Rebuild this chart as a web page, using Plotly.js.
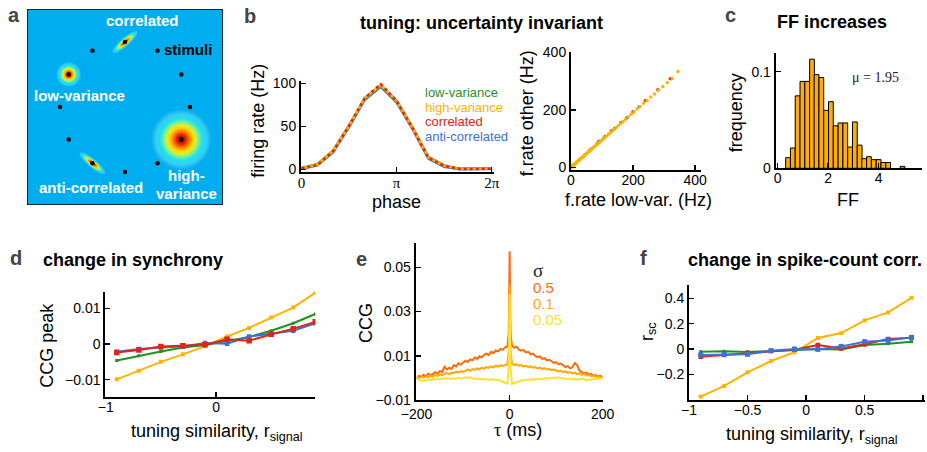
<!DOCTYPE html>
<html><head><meta charset="utf-8">
<script src="https://cdn.plot.ly/plotly-3.0.1.min.js"></script>
<style>body{margin:0;background:#fff}</style></head><body>
<div id="chart" style="width:927px;height:452px"></div>
<script>
// ---------------- DATA ----------------
// panel a: stimulus directions (deg) and blobs
const stimAngles = [90, 60, 30, 0, -30, -60, -90, -120, -150, 180, 150, 120];
const blobNames = ['correlated', 'low-variance', 'anti-correlated', 'high-variance'];
const blobAngles = [90, 150, 240, 330];
const blobSigMajor = [5.5, 4, 5.5, 9.6];   // px
const blobSigMinor = [1.4, 4, 1.4, 9.6];   // px
const blobRot = [41, 0, -40, 0];

// panel b (left): tuning curves
const phase = [0, 0.5236, 1.0472, 1.5708, 2.0944, 2.6180, 3.1416, 3.6652, 4.1888, 4.7124, 5.2360, 5.7596, 6.2832];
const rateLowVar  = [1.5, 6.0, 22.0, 51.0, 83.0, 97.5, 80.0, 49.0, 14.5, 4.5, 0.8, 0.8, 1.2];
const rateHighVar = [1.0, 5.5, 21.5, 50.5, 82.5, 98.0, 79.5, 48.5, 14.0, 4.2, 0.5, 0.5, 0.8];
const rateCorr    = [1.0, 5.0, 21.0, 50.5, 83.0, 99.0, 79.5, 48.0, 13.5, 4.0, 0.3, 0.3, 0.6];
const rateAnti    = [0.5, 4.5, 20.0, 49.0, 81.0, 96.0, 78.0, 47.0, 12.5, 3.0, 0.0, 0.0, 0.3];

// panel b (right): rates, low-variance (x) vs other condition (y)
const frLowH = [0.5,1,1.5,2,3,3.5,4,5,6,7,8,9,10,11,12,13,14,16,17,19,20,22,24,26,28,30,32,34,36,39,41,44,47,50,53,56,60,63,67,71,75,79,84,88,93,98,103,108,114,120,126,132,139,146,153,160,168,176,185,194,203,213,223,234,245,257,269,282,296,310,326,345];
const frHigh = [0.5,1,1.4,1.9,2.9,3.3,3.8,4.8,5.7,6.6,7.7,8.5,9.5,10.5,11.3,12.4,13.2,15.3,16.1,18.1,18.9,21,22.7,24.8,26.5,28.6,30.3,32.4,34.1,37.2,38.8,41.9,44.6,47.6,50.2,53.3,56.9,60,63.5,67.6,71.1,75.2,79.7,83.8,88.2,93.2,97.7,102.8,108.1,114.2,119.5,125.6,131.8,138.9,145.2,152.1,159.4,167.3,175.5,184.6,192.6,202.6,211.6,222.5,232.5,244.4,255.3,268.2,280.9,294.8,309.3,333];
const frLowC = [5, 12, 25, 40, 60, 85, 110, 130, 160, 200, 240, 280, 320];
const frCorr = [5, 11.6, 24.2, 38.8, 58.4, 82.5, 107, 127, 155, 193, 232, 270, 308];
const frLowA = [3, 9, 18, 30, 45, 65, 90, 105, 140, 180, 220];
const frAnti = [3, 8.8, 17.6, 29.4, 43.8, 63.6, 91, 101, 135, 172, 211];

// panel c: Fano factor histogram
const ffBins = [0.41,0.60,0.79,0.98,1.17,1.36,1.54,1.73,1.92,2.11,2.30,2.49,2.68,2.87,3.06,3.25,3.43,3.62,3.81,4.00,4.19,4.38,4.95];
const ffFreq = [0.011,0.021,0.075,0.090,0.090,0.113,0.097,0.094,0.060,0.069,0.044,0.047,0.047,0.022,0.048,0.024,0.010,0.012,0.009,0.009,0.006,0.006,0.002];

// panel d & f: tuning similarity
const rSignal = [-0.9, -0.7, -0.5, -0.3, -0.1, 0.1, 0.3, 0.5, 0.7, 0.9];
const ccgHigh = [-0.0099, -0.0075, -0.0050, -0.0029, -0.0006, 0.0021, 0.0045, 0.0074, 0.0102, 0.0144];
const ccgLow  = [-0.0046, -0.0033, -0.0021, -0.0010, -0.0003, 0.0008, 0.0020, 0.0037, 0.0058, 0.0084];
const ccgCorr = [-0.0024, -0.0017, -0.0007, -0.0005, -0.0002, 0.0013, 0.0009, 0.0027, 0.0043, 0.0062];
const ccgAnti = [-0.0022, -0.0014, -0.0010, -0.0007, 0.0003, 0.0001, 0.0021, 0.0028, 0.0037, 0.0058];
const rscHigh = [-0.376, -0.292, -0.184, -0.095, -0.026, 0.087, 0.126, 0.226, 0.289, 0.405];
const rscLow  = [-0.021, -0.018, -0.024, -0.016, -0.003, 0.000, -0.003, 0.032, 0.042, 0.058];
const rscCorr = [-0.061, -0.047, -0.029, -0.016, -0.005, 0.032, 0.005, 0.037, 0.079, 0.089];
const rscAnti = [-0.047, -0.042, -0.042, -0.013, 0.000, -0.003, 0.021, 0.058, 0.068, 0.092];

// panel e: cross-correlograms
const tau = [-200,-195,-190,-185,-180,-175,-170,-165,-160,-155,-150,-145,-140,-135,-130,-125,-120,-115,-110,-105,-100,-95,-90,-85,-80,-75,-70,-65,-60,-55,-50,-45,-40,-35,-30,-25,-20,-15,-10,-5,-2,-1,0,1,2,5,10,15,20,25,30,35,40,45,50,55,60,65,70,75,80,85,90,95,100,105,110,115,120,125,130,135,140,145,150,155,160,165,170,175,180,185,190,195,200];
const ccg05 = [-0.0003,0.0009,0.0004,0.0014,0.0007,0.0019,0.0011,0.0017,0.0026,0.0020,0.0031,0.0027,0.0050,0.0038,0.0046,0.0041,0.0058,0.0052,0.0066,0.0060,0.0071,0.0078,0.0072,0.0084,0.0080,0.0092,0.0086,0.0098,0.0093,0.0104,0.0110,0.0103,0.0118,0.0112,0.0124,0.0120,0.0131,0.0127,0.0138,0.0141,
  0.0200,0.0330,0.0573,0.0320,0.0195,
  0.0146,0.0137,0.0141,0.0128,0.0123,0.0126,0.0115,0.0118,0.0107,0.0110,0.0099,0.0094,0.0097,0.0086,0.0089,0.0079,0.0082,0.0073,0.0068,0.0071,0.0062,0.0065,0.0055,0.0049,0.0053,0.0043,0.0048,0.0067,0.0058,0.0034,0.0026,0.0021,0.0024,0.0015,0.0018,0.0010,0.0013,0.0006,0.0009,0.0003];
const ccg01 = [0.0001,-0.0002,0.0005,0.0002,0.0008,0.0004,0.0010,0.0007,0.0013,0.0009,0.0016,0.0012,0.0019,0.0022,0.0017,0.0024,0.0021,0.0028,0.0025,0.0031,0.0027,0.0034,0.0038,0.0032,0.0040,0.0036,0.0043,0.0039,0.0046,0.0042,0.0049,0.0045,0.0052,0.0047,0.0055,0.0051,0.0057,0.0054,0.0059,0.0062,
  0.0120,0.0240,0.0423,0.0235,0.0115,
  0.0064,0.0058,0.0061,0.0055,0.0058,0.0052,0.0055,0.0049,0.0052,0.0046,0.0049,0.0043,0.0047,0.0041,0.0044,0.0038,0.0041,0.0035,0.0038,0.0032,0.0029,0.0033,0.0026,0.0030,0.0023,0.0027,0.0020,0.0024,0.0017,0.0021,0.0014,0.0018,0.0011,0.0015,0.0008,0.0012,0.0005,0.0009,0.0002,0.0004];
const ccg005 = [0.0000,-0.0008,-0.0015,-0.0010,-0.0013,-0.0006,-0.0011,-0.0004,-0.0009,-0.0003,-0.0007,-0.0002,-0.0005,-0.0001,-0.0004,-0.0006,-0.0002,-0.0005,0.0001,-0.0003,-0.0001,0.0003,0.0000,0.0004,-0.0002,-0.0005,-0.0003,-0.0006,-0.0004,-0.0008,-0.0005,-0.0009,-0.0007,-0.0006,-0.0010,-0.0008,-0.0013,-0.0016,-0.0022,-0.0026,
  0.0050,0.0200,0.0380,0.0190,0.0045,
  -0.0028,-0.0024,-0.0018,-0.0014,-0.0011,-0.0012,-0.0008,-0.0010,-0.0006,-0.0009,-0.0005,-0.0007,-0.0003,-0.0006,-0.0002,-0.0004,0.0000,-0.0003,0.0002,-0.0001,0.0003,0.0000,-0.0004,-0.0002,-0.0006,-0.0003,-0.0007,-0.0004,-0.0008,-0.0005,-0.0003,-0.0007,-0.0012,-0.0006,-0.0009,-0.0004,-0.0007,-0.0002,-0.0005,0.0000];

// ---------------- LAYOUT HELPERS ----------------
const W = 927, H = 452;
const FONT = 'Liberation Sans, Arial, Helvetica, sans-serif';
const SERIF = 'Liberation Serif, Times New Roman, serif';
const C = {green:'#1f921f', orange:'#ffb300', red:'#e2231a', blue:'#3b72d6'};
function dom(l, r, t, b) { return {x:[l/W, r/W], y:[1-b/H, 1-t/H]}; }
function ax(domain, range, anchor, extra) {
  return Object.assign({domain, range, anchor, autorange:false, showgrid:false, zeroline:false,
    showline:true, linecolor:'#000', linewidth:2, ticks:'inside', ticklen:5, tickwidth:1.5, tickcolor:'#000',
    tickfont:{family:FONT, size:14, color:'#000'}, fixedrange:true}, extra || {});
}
function xax(domain, range, anchor, extra) {
  return ax(domain, range, anchor, Object.assign({ticklabelstandoff:-4}, extra || {}));
}
function A(text, px, py, o) {
  return Object.assign({text, x:px/W, y:1-py/H, xref:'paper', yref:'paper', showarrow:false,
    xanchor:'center', yanchor:'middle', font:{family:FONT, size:18, color:'#000'}}, o || {});
}

const D = {
  b1: dom(301, 494, 81, 172.3), b2: dom(571, 700.7, 52.3, 170), c: dom(775.7, 921.7, 52.7, 168.3),
  d: dom(105.3, 315.3, 291.7, 397.3), e: dom(415.7, 602.7, 243.3, 400), f: dom(689, 925, 285, 400),
  a: dom(27, 223, 9, 205)
};

// ---------------- PANEL a shapes ----------------
const PX = 65; // px per unit in panel a
const aR = 1.508;
const shapes = [{type:'rect', xref:'x7', yref:'y7', x0:-aR, x1:aR, y0:-aR, y1:aR, fillcolor:'#00aeef',
  line:{color:'#000', width:1.5}, layer:'below'}];
// colour stops of the (jet-like) blob colour scale, by radius in units of sigma
const fStops = [3.1, 2.7, 2.3, 1.95, 1.6, 1.3, 1.0, 0.6, 0.2];
const cStops = [[20,180,240],[60,205,245],[20,226,238],[110,236,170],[215,240,50],[255,214,0],[255,140,0],[238,40,0],[150,0,0]];
function colAt(f) {
  for (let i = 0; i < fStops.length - 1; i++) {
    if (f <= fStops[i] && f >= fStops[i+1]) {
      const t = (fStops[i] - f) / (fStops[i] - fStops[i+1]);
      const c = cStops[i].map((v, j) => Math.round(v + t * (cStops[i+1][j] - v)));
      return 'rgb(' + c.join(',') + ')';
    }
  }
  return 'rgb(' + cStops[cStops.length-1].join(',') + ')';
}
function ellPath(cx, cy, a, b, rot) {
  const t = rot * Math.PI / 180; let s = '';
  for (let i = 0; i < 60; i++) {
    const u = 2 * Math.PI * i / 60, ex = a * Math.cos(u), ey = b * Math.sin(u);
    const x = cx + ex * Math.cos(t) - ey * Math.sin(t), y = cy + ex * Math.sin(t) + ey * Math.cos(t);
    s += (i ? 'L' : 'M') + x.toFixed(4) + ',' + y.toFixed(4);
  }
  return s + 'Z';
}
const ringF = [];
for (let f = 3.1; f > 0.2; f -= 0.15) ringF.push(f);
blobAngles.forEach((ang, k) => {
  const cx = Math.cos(ang * Math.PI / 180), cy = Math.sin(ang * Math.PI / 180);
  ringF.forEach((f) => {
    shapes.push({type:'path', xref:'x7', yref:'y7', layer:'below', line:{width:0}, fillcolor:colAt(f),
      path: ellPath(cx, cy, f * blobSigMajor[k] / PX, f * blobSigMinor[k] / PX, blobRot[k])});
  });
});

// ---------------- TRACES ----------------
const traces = [];
// a: stimuli dots
traces.push({type:'scatter', mode:'markers', xaxis:'x7', yaxis:'y7',
  x: stimAngles.map(a => Math.cos(a * Math.PI / 180)), y: stimAngles.map(a => Math.sin(a * Math.PI / 180)),
  marker:{size:4.5, color:'#000'}, hoverinfo:'skip'});
// b1
[[rateAnti, C.blue, 'solid'], [rateLowVar, C.green, 'solid'], [rateHighVar, C.orange, 'solid'], [rateCorr, C.red, '3px,3px']].forEach(s => {
  traces.push({type:'scatter', mode:'lines', xaxis:'x', yaxis:'y', x:phase, y:s[0], line:{color:s[1], width:2.5, dash:s[2]}});
});
// b2
[[frLowA, frAnti, C.blue], [frLowC, frCorr, C.red], [frLowH, frHigh, C.orange]].forEach(s => {
  traces.push({type:'scatter', mode:'markers', xaxis:'x2', yaxis:'y2', x:s[0], y:s[1], marker:{size:3.5, color:s[2]}});
});
// c
traces.push({type:'bar', xaxis:'x3', yaxis:'y3', x:ffBins, y:ffFreq, width:0.189,
  marker:{color:'#ffad00', line:{color:'#000', width:1}}});
// d
[[ccgHigh, C.orange, 4], [ccgLow, C.green, 3], [ccgAnti, C.blue, 4.5], [ccgCorr, C.red, 5.5]].forEach(s => {
  traces.push({type:'scatter', mode:'lines+markers', xaxis:'x4', yaxis:'y4', x:rSignal, y:s[0],
    line:{color:s[1], width:2}, marker:{symbol:'square', size:s[2], color:s[1]}});
});
// e
[[ccg05, '#ff6a0a'], [ccg01, '#ffa800'], [ccg005, '#ffe033']].forEach(s => {
  traces.push({type:'scatter', mode:'lines', xaxis:'x5', yaxis:'y5', x:tau, y:s[0], line:{color:s[1], width:2}});
});
// f
[[rscHigh, C.orange, 4], [rscLow, C.green, 3], [rscCorr, C.red, 4.5], [rscAnti, C.blue, 5]].forEach(s => {
  traces.push({type:'scatter', mode:'lines+markers', xaxis:'x6', yaxis:'y6', x:rSignal, y:s[0],
    line:{color:s[1], width:2}, marker:{symbol:'square', size:s[2], color:s[1]}});
});

// ---------------- ANNOTATIONS ----------------
const wb = (t) => '<b>' + t + '</b>';
const ann = [
  A(wb('a'), 14, 15, {font:{family:FONT, size:20}}),
  A(wb('correlated'), 142, 20.7, {font:{family:FONT, size:15, color:'#fff'}}),
  A(wb('stimuli'), 188, 49, {font:{family:FONT, size:15, color:'#000'}}),
  A(wb('low-variance'), 79, 95.7, {font:{family:FONT, size:15, color:'#fff'}}),
  A(wb('anti-correlated'), 90.7, 187.7, {font:{family:FONT, size:15, color:'#fff'}}),
  A(wb('high-'), 186, 176, {font:{family:FONT, size:15, color:'#fff'}}),
  A(wb('variance'), 186, 193, {font:{family:FONT, size:15, color:'#fff'}}),

  A(wb('b'), 250, 16, {font:{family:FONT, size:20}}),
  A(wb('tuning: uncertainty invariant'), 481, 23),
  A('low-variance', 422.7, 92.7, {xanchor:'left', font:{family:FONT, size:13, color:C.green}}),
  A('high-variance', 422.7, 107.7, {xanchor:'left', font:{family:FONT, size:13, color:C.orange}}),
  A('correlated', 422.7, 121, {xanchor:'left', font:{family:FONT, size:13, color:C.red}}),
  A('anti-correlated', 422.7, 136, {xanchor:'left', font:{family:FONT, size:13, color:C.blue}}),
  A('firing rate (Hz)', 258, 120.7, {textangle:-90}),
  A('phase', 396.7, 201.5),
  A('f.rate other (Hz)', 527, 113.3, {textangle:-90}),
  A('f.rate low-var. (Hz)', 638, 200),

  A(wb('c'), 730.7, 15, {font:{family:FONT, size:20}}),
  A(wb('FF increases'), 831.7, 21.7),
  A('\u03bc = 1.95', 875, 77.3, {font:{family:SERIF, size:14, color:'#222'}}),
  A('frequency', 736.7, 112.5, {textangle:-90}),
  A('FF', 848.3, 200),
  A('6', 924.5, 178, {xanchor:'left', font:{family:FONT, size:14}}),

  A(wb('d'), 15.7, 258.3, {font:{family:FONT, size:20}}),
  A(wb('change in synchrony'), 40.7, 260, {xanchor:'left'}),
  A('CCG peak', 46.7, 345, {textangle:-90}),
  A('tuning similarity, r<sub>signal</sub>', 216.7, 432),

  A(wb('e'), 361.7, 259, {font:{family:FONT, size:20}}),
  A('CCG', 366.7, 323.3, {textangle:-90}),
  A('<span style="font-family:Liberation Serif">\u03c4</span> (ms)', 518.3, 430),
  A('\u03c3', 538.3, 270, {font:{family:SERIF, size:19, color:'#222'}}),
  A('0.5', 530.7, 287.7, {xanchor:'left', font:{family:FONT, size:15, color:'#ff6a0a'}}),
  A('0.1', 530.7, 303.3, {xanchor:'left', font:{family:FONT, size:15, color:'#ffa800'}}),
  A('0.05', 530.7, 319, {xanchor:'left', font:{family:FONT, size:15, color:'#ffe033'}}),

  A(wb('f'), 643.3, 258.3, {font:{family:FONT, size:20}}),
  A(wb('change in spike-count corr.'), 805, 260),
  A('r<sub>sc</sub>', 648.3, 331.7, {textangle:-90}),
  A('tuning similarity, r<sub>signal</sub>', 811.7, 435)
];

const serifTick = {family:SERIF, size:15, color:'#000'};
const layout = {
  width:W, height:H, margin:{l:0, r:0, t:0, b:0}, showlegend:false,
  paper_bgcolor:'#fff', plot_bgcolor:'rgba(0,0,0,0)',
  xaxis:  xax(D.b1.x, [-0.017, 6.36], 'y', {tickvals:[0, 3.1416, 6.2832], ticktext:['0','\u03c0','2\u03c0'], tickfont:serifTick}),
  yaxis:  ax(D.b1.y, [-3.49, 102.7], 'x', {tickvals:[0, 50, 100]}),
  xaxis2: xax(D.b2.x, [0, 418], 'y2', {tickvals:[0, 200, 400]}),
  yaxis2: ax(D.b2.y, [-9.4, 400], 'x2', {tickvals:[0, 200, 400]}),
  xaxis3: xax(D.c.x, [-0.079, 5.71], 'y3', {tickvals:[0, 2, 4]}),
  yaxis3: ax(D.c.y, [0, 0.1197], 'x3', {tickvals:[0, 0.1], ticktext:['0','0.1']}),
  xaxis4: xax(D.d.x, [-1.004, 0.9], 'y4', {tickvals:[-1, 0], ticktext:['\u22121','0']}),
  yaxis4: ax(D.d.y, [-0.01493, 0.01465], 'x4', {tickvals:[-0.01, 0, 0.01], ticktext:['\u22120.01','0','0.01']}),
  xaxis5: ax(D.e.x, [-202, 200], 'y5', {tickvals:[-200, 0, 200], ticktext:['\u2212200','0','200'], ticklabelstandoff:0}),
  yaxis5: ax(D.e.y, [-0.01, 0.0609], 'x5', {tickvals:[-0.01, 0.01, 0.03, 0.05], ticktext:['\u22120.01','0.01','0.03','0.05']}),
  xaxis6: xax(D.f.x, [-1, 1.015], 'y6', {tickvals:[-1, -0.5, 0, 0.5, 1], ticktext:['\u22121','\u22120.5','0','0.5','1']}),
  yaxis6: ax(D.f.y, [-0.403, 0.506], 'x6', {tickvals:[-0.2, 0, 0.2, 0.4], ticktext:['\u22120.2','0','0.2','0.4']}),
  xaxis7: {domain:D.a.x, range:[-aR, aR], anchor:'y7', visible:false, fixedrange:true},
  yaxis7: {domain:D.a.y, range:[-aR, aR], anchor:'x7', visible:false, fixedrange:true},
  shapes: shapes,
  annotations: ann
};
Plotly.newPlot('chart', traces, layout, {staticPlot:true, displayModeBar:false});
</script>
</body></html>
